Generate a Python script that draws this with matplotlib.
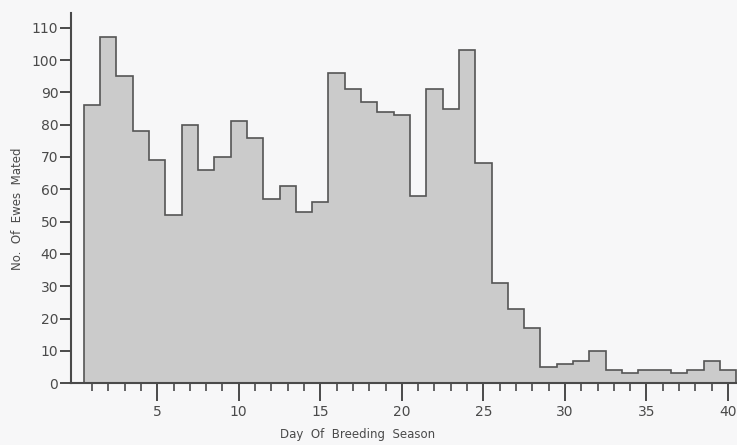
import numpy as np
import matplotlib
matplotlib.use("Agg")
import matplotlib.pyplot as plt
from matplotlib.ticker import FixedLocator

# ewes mated per day of breeding season
days = list(range(1, 41))
ewes = [86, 107, 95, 78, 69, 52, 80, 66, 70, 81,
        76, 57, 61, 53, 56, 96, 91, 87, 84, 83,
        58, 91, 85, 103, 68, 31, 23, 17, 5, 6,
        7, 10, 4, 3, 4, 4, 3, 4, 7, 4]
yticks = list(range(0, 111, 10))
xticks = [5, 10, 15, 20, 25, 30, 35, 40]

ink = "#4a4a4a"
plt.rcParams['font.family'] = ['DejaVu Sans']

fig = plt.figure(figsize=(7.37, 4.45), dpi=100)
fig.patch.set_facecolor("#f7f7f8")
ax = fig.add_axes([0.096, 0.139, 0.904, 0.832])
ax.set_facecolor("#f7f7f8")

edges = np.arange(days[0] - 0.5, days[-1] + 1.0, 1.0)
ax.stairs(ewes, edges, fill=True, facecolor="#cbcbcb", edgecolor="none")
ax.stairs(ewes, edges, baseline=0, color="#555555", linewidth=1.2)

ax.set_xlim(-0.3, 40.55)
ax.set_ylim(0, 114.6)
ax.set_yticks(yticks)
ax.set_xticks(xticks)
ax.xaxis.set_minor_locator(FixedLocator([d for d in days if d % 5 != 0]))

for s in ["top", "right"]:
    ax.spines[s].set_visible(False)
for s in ["left", "bottom"]:
    ax.spines[s].set_color(ink)
    ax.spines[s].set_linewidth(1.5)

ax.tick_params(axis="y", which="major", direction="out", length=8,
               width=1.4, color=ink, labelcolor=ink, labelsize=10, pad=1)
ax.tick_params(axis="x", which="major", direction="out", length=13,
               width=1.4, color=ink, labelcolor=ink, labelsize=10, pad=3)
ax.tick_params(axis="x", which="minor", direction="out", length=6,
               width=1.2, color=ink)

ax.set_ylabel("No.  Of  Ewes  Mated", color=ink, fontsize=8.5)
ax.yaxis.set_label_coords(-0.07, 0.47)
ax.set_xlabel("Day  Of  Breeding  Season", color=ink, fontsize=8.5)
ax.xaxis.set_label_coords(0.43, -0.12)

fig.savefig("out.png", dpi=100, facecolor=fig.get_facecolor())
